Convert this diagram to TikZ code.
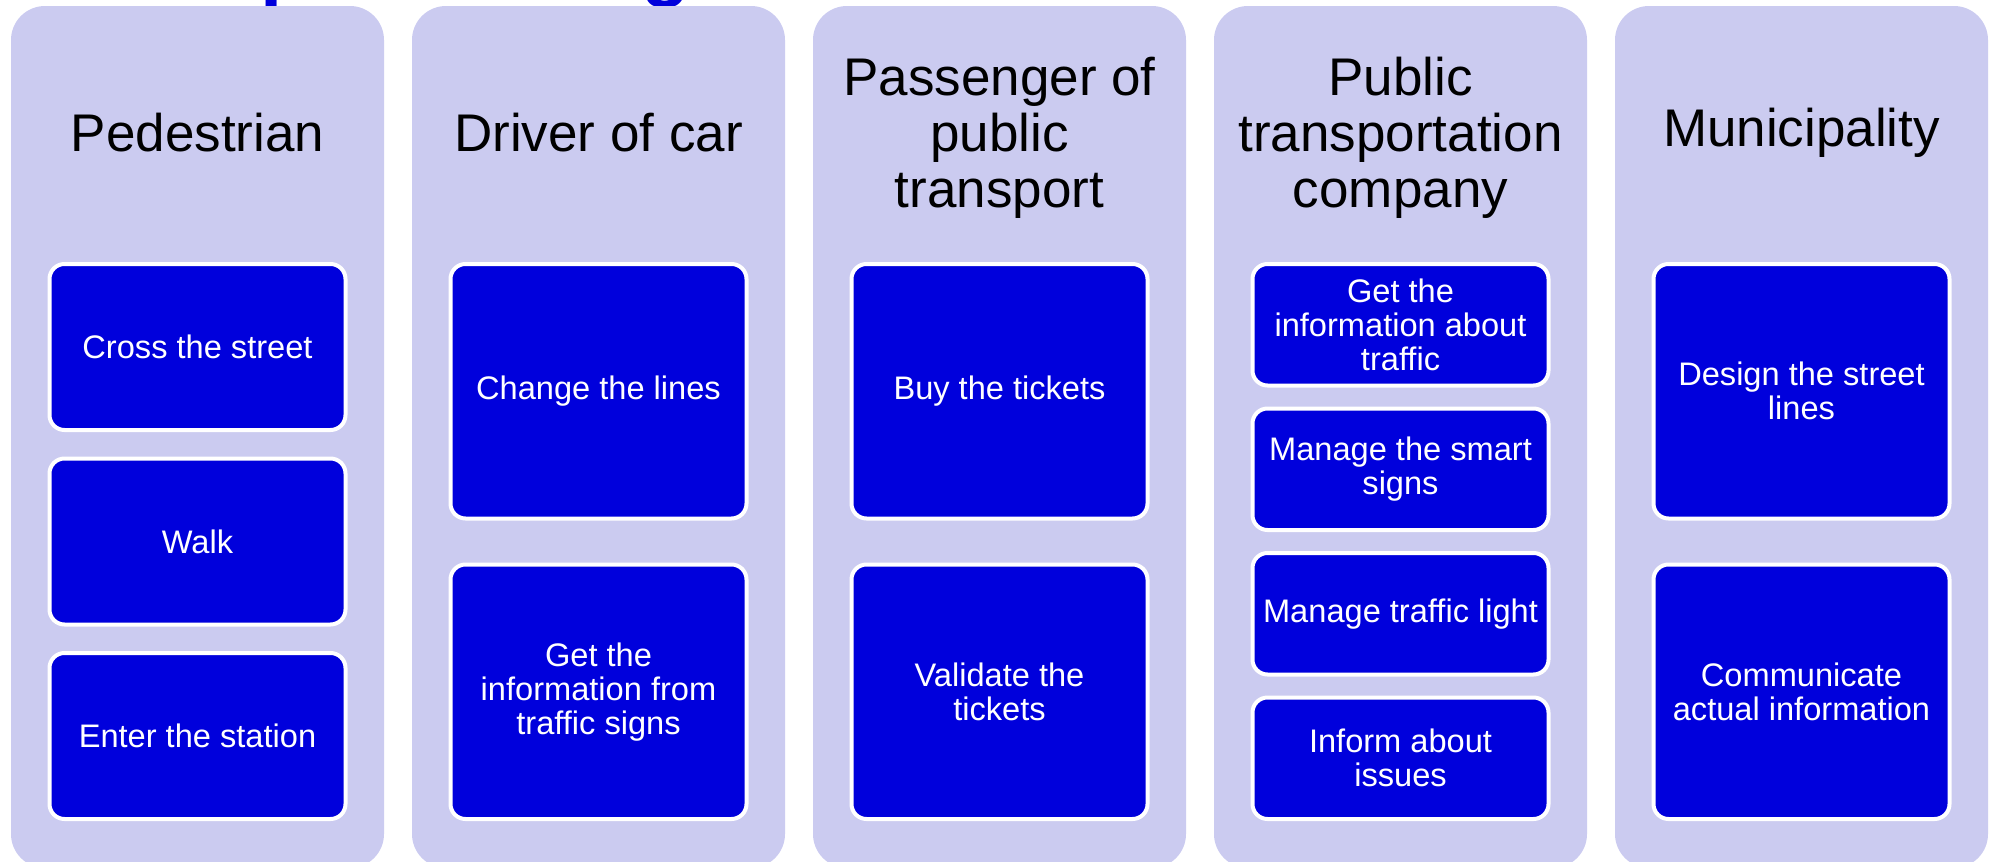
\documentclass[tikz,border=0pt]{standalone}
\usepackage{fontspec}
\setmainfont{Liberation Sans}
\usetikzlibrary{positioning}

\definecolor{lanebg}{RGB}{203,203,240}
\definecolor{taskblue}{RGB}{0,0,220}

\tikzset{
  lane/.style={fill=lanebg, rounded corners=17pt},
  lanetitle/.style={align=center, text=black, inner sep=0pt,
    font=\fontsize{26.5}{28}\selectfont},
  headfrag/.style={anchor=base west, inner sep=0pt, text=taskblue,
    font=\bfseries\fontsize{40}{42}\selectfont},
  task/.style={draw=white, line width=2pt, fill=taskblue, rounded corners=7.5pt,
    text=white, align=center, minimum width=148pt, inner sep=2pt,
    font=\fontsize{16.3}{17}\selectfont},
  task3/.style={task, minimum height=83pt},
  task2/.style={task, minimum height=127.25pt},
  task4/.style={task, minimum height=60.75pt},
}

\begin{document}
\begin{tikzpicture}[x=0.5pt, y=-0.5pt]
    \useasboundingbox (0,0) rectangle (1993,862);
    \clip (0,0) rectangle (1993,862);

    % cut-off heading, hidden behind the lanes
    \node[headfrag] (head-p) at (260.5,-9) {p};
    \node[headfrag] (head-g) at (641,-9) {g};

    % Lanes
    \foreach \i/\name in {0/ped, 1/drv, 2/pas, 3/ptc, 4/mun}
        \fill[lane] ({11+401*\i},6) rectangle ++(373,862);

    % Titles
    \node[lanetitle] (ped-t) at (197.5,133) {Pedestrian};
    \node[lanetitle] (drv-t) at (598.5,133) {Driver of car};
    \node[lanetitle] (pas-t) at (999.5,138) {Passenger of\\public\\transport};
    \node[lanetitle] (ptc-t) at (1400.5,138) {Public\\transportation\\company};
    \node[lanetitle] (mun-t) at (1801.5,133) {Municipality};

    % Pedestrian
    \foreach \j/\txt in {0/Cross the street, 1/Walk, 2/Enter the station}
        \node[task3] (ped-\j) at (197.5,{347+194.5*\j}) {\txt};

    % Driver of car
    \foreach \j/\txt in {0/Change the lines, 1/{Get the\\information from\\traffic signs}}
        \node[task2] (drv-\j) at (598.5,{391.25+300.5*\j}) {\txt};

    % Passenger
    \foreach \j/\txt in {0/Buy the tickets, 1/{Validate the\\tickets}}
        \node[task2] (pas-\j) at (999.5,{391.25+300.5*\j}) {\txt};

    % Company
    \foreach \j/\txt in {0/{Get the\\information about\\traffic}, 1/{Manage the smart\\signs},
                         2/Manage traffic light, 3/{Inform about\\issues}}
        \node[task4] (ptc-\j) at (1400.5,{324.75+144.5*\j}) {\txt};

    % Municipality
    \foreach \j/\txt in {0/{Design the street\\lines}, 1/{Communicate\\actual information}}
        \node[task2] (mun-\j) at (1801.5,{391.25+300.5*\j}) {\txt};
\end{tikzpicture}
\end{document}
